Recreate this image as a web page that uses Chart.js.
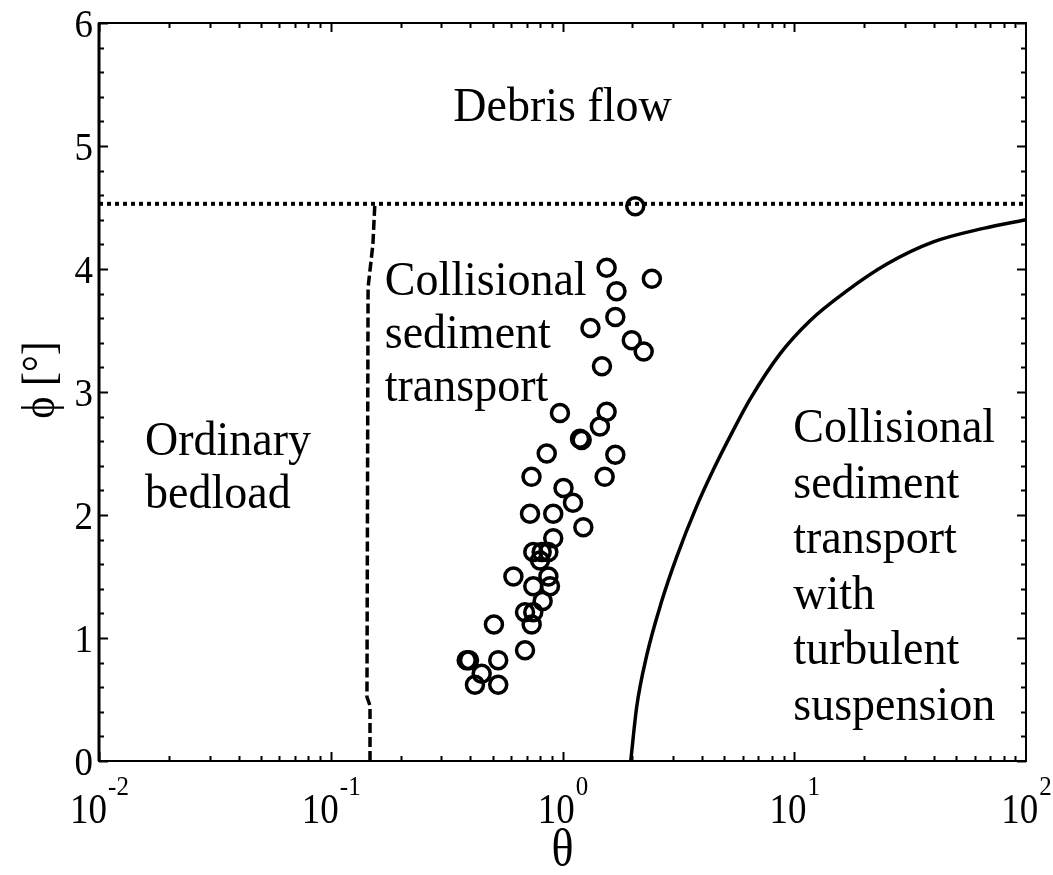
<!DOCTYPE html>
<html>
<head>
<meta charset="utf-8">
<script src="https://cdn.jsdelivr.net/npm/chart.js@4.4.0/dist/chart.umd.min.js"></script>
<style>
html, body { margin: 0; padding: 0; background: #fff; }
</style>
</head>
<body>
<canvas id="regimeChart" width="1053" height="875"></canvas>
<script>
// measured runs: Shields number theta vs bed slope phi (deg)
var runTheta = [2.06, 1.55, 2.43, 1.71, 1.69, 1.32, 1.99, 2.24, 1.48, 0.975, 1.55, 1.45, 1.19, 1.21,
    0.855, 1.69, 0.735, 1.52, 1.01, 1.11, 0.724, 0.912, 1.23, 0.912, 0.748, 0.813, 0.869, 0.80,
    0.614, 0.869, 0.748, 0.883, 0.821, 0.689, 0.748, 0.736, 0.506, 0.689, 0.386, 0.395, 0.528,
    0.448, 0.419, 0.528];
var runPhi = [4.51, 4.01, 3.92, 3.82, 3.61, 3.52, 3.42, 3.33, 3.21, 2.83, 2.84, 2.72, 2.62, 2.61,
    2.50, 2.49, 2.31, 2.31, 2.22, 2.10, 2.01, 2.01, 1.90, 1.81, 1.70, 1.70, 1.70, 1.63,
    1.50, 1.50, 1.42, 1.42, 1.30, 1.21, 1.21, 1.11, 1.11, 0.90, 0.82, 0.82, 0.82,
    0.71, 0.62, 0.62];

// boundary: collisional / turbulent suspension (solid)
var suspTheta = [1.97, 2.09, 2.31, 2.68, 3.11, 3.79, 4.48, 5.46, 6.44, 8.68, 11.7, 16.8, 25.1, 39.8, 65.5, 100];
var suspPhi = [0, 0.44, 0.86, 1.30, 1.66, 2.07, 2.37, 2.69, 2.94, 3.31, 3.58, 3.82, 4.04, 4.22, 4.33, 4.40];

// boundary: ordinary bedload / collisional (dashed)
var bedTheta = [0.1477, 0.1477, 0.1433, 0.1449, 0.152, 0.155];
var bedPhi = [0, 0.45, 0.52, 3.85, 4.2, 4.53];

// boundary: debris flow (dotted)
var debrisTheta = [0.01, 100];
var debrisPhi = [4.53, 4.53];

var xTickValues = [0.01, 0.1, 1, 10, 100];
var xTickExp = ['-2', '-1', '0', '1', '2'];
var yTickValues = [0, 1, 2, 3, 4, 5, 6];

function toPoints(xs, ys) {
    var pts = [];
    for (var i = 0; i < xs.length; i++) pts.push({x: xs[i], y: ys[i]});
    return pts;
}

var regionLabels = [
    {lines: ['Debris flow'], theta: 1.0, phi: 5.2, align: 'center', lh: 53},
    {lines: ['Collisional', 'sediment', 'transport'], theta: 0.171, phi: 3.79, align: 'left', lh: 53},
    {lines: ['Ordinary', 'bedload'], theta: 0.0158, phi: 2.49, align: 'left', lh: 53},
    {lines: ['Collisional', 'sediment', 'transport', 'with', 'turbulent', 'suspension'], theta: 9.9, phi: 2.59, align: 'left', lh: 55.5}
];

var serif = '"Liberation Serif", "Times New Roman", serif';

// text in the original is a bit taller than wide, so stretch it vertically
function tallText(ctx, txt, x, y, sy) {
    ctx.save();
    ctx.translate(x, y);
    ctx.scale(1, sy);
    ctx.fillText(txt, 0, 0);
    ctx.restore();
}

var framePlugin = {
    id: 'frame',
    afterDraw: function(chart) {
        var ctx = chart.ctx, a = chart.chartArea, x = chart.scales.x, y = chart.scales.y;
        ctx.save();
        ctx.strokeStyle = '#000';
        ctx.fillStyle = '#000';

        // inward ticks on all four sides
        ctx.lineWidth = 2;
        ctx.beginPath();
        for (var k = -2; k <= 1; k++) {
            for (var m = 1; m <= 9; m++) {
                var px = Math.round(x.getPixelForValue(m * Math.pow(10, k))) + 0.5;
                var len = m == 1 ? 9 : 5;
                ctx.moveTo(px, a.bottom); ctx.lineTo(px, a.bottom - len);
                ctx.moveTo(px, a.top); ctx.lineTo(px, a.top + len);
            }
        }
        for (var i = 0; i <= 30; i++) {
            var py = Math.round(y.getPixelForValue(i * 0.2)) + 0.5;
            var ylen = i % 5 == 0 ? 9 : 5;
            ctx.moveTo(a.left, py); ctx.lineTo(a.left + ylen, py);
            ctx.moveTo(a.right, py); ctx.lineTo(a.right - ylen, py);
        }
        ctx.stroke();

        // box
        ctx.lineWidth = 2;
        ctx.strokeRect(a.left, a.top, a.right - a.left, a.bottom - a.top);
        ctx.lineWidth = 3;
        ctx.beginPath();
        ctx.moveTo(a.left, a.top); ctx.lineTo(a.left, a.bottom);
        ctx.stroke();

        // y tick labels
        ctx.font = '37px ' + serif;
        ctx.textAlign = 'right';
        ctx.textBaseline = 'alphabetic';
        yTickValues.forEach(function(v) {
            tallText(ctx, String(v), a.left - 6, y.getPixelForValue(v) + 14, 1.08);
        });

        // x tick labels 10^k
        xTickValues.forEach(function(v, j) {
            var cx = x.getPixelForValue(v);
            ctx.font = '37px ' + serif;
            var w1 = ctx.measureText('10').width;
            ctx.font = '25px ' + serif;
            var w2 = ctx.measureText(xTickExp[j]).width;
            var left = cx - (w1 + w2) / 2;
            ctx.textAlign = 'left';
            ctx.font = '37px ' + serif;
            tallText(ctx, '10', left, a.bottom + 62, 1.15);
            ctx.font = '25px ' + serif;
            tallText(ctx, xTickExp[j], left + w1 + 1, a.bottom + 34, 1.1);
        });

        // axis titles
        ctx.font = '46px ' + serif;
        ctx.textAlign = 'center';
        tallText(ctx, '\u03b8', (a.left + a.right) / 2, a.bottom + 104, 1.15);
        ctx.font = '42px ' + serif;
        ctx.save();
        ctx.translate(54, 380);
        ctx.rotate(-Math.PI / 2);
        ctx.scale(1, 1.1);
        ctx.fillText('\u03d5 [\u00b0]', 0, 0);
        ctx.restore();

        // region labels
        ctx.font = '46px ' + serif;
        regionLabels.forEach(function(lab) {
            ctx.textAlign = lab.align;
            var lx = x.getPixelForValue(lab.theta);
            var ly = y.getPixelForValue(lab.phi);
            lab.lines.forEach(function(t, n) {
                tallText(ctx, t, lx, ly + n * lab.lh, 1.05);
            });
        });
        ctx.restore();
    }
};

var ctx = document.getElementById('regimeChart').getContext('2d');
var myChart = new Chart(ctx, {
    type: 'scatter',
    data: {
        datasets: [{
            label: 'debris',
            data: toPoints(debrisTheta, debrisPhi),
            showLine: true,
            borderColor: '#000',
            borderWidth: 4,
            borderDash: [4, 4],
            pointRadius: 0
        }, {
            label: 'bedload',
            data: toPoints(bedTheta, bedPhi),
            showLine: true,
            borderColor: '#000',
            borderWidth: 3.5,
            borderDash: [10, 4],
            pointRadius: 0
        }, {
            label: 'suspension',
            data: toPoints(suspTheta, suspPhi),
            showLine: true,
            borderColor: '#000',
            borderWidth: 3.5,
            cubicInterpolationMode: 'monotone',
            pointRadius: 0
        }, {
            label: 'runs',
            data: toPoints(runTheta, runPhi),
            pointStyle: 'circle',
            pointRadius: 8.5,
            pointBorderWidth: 3.5,
            pointBorderColor: '#000',
            pointBackgroundColor: 'rgba(0,0,0,0)'
        }]
    },
    options: {
        responsive: false,
        devicePixelRatio: 1,
        animation: false,
        layout: { padding: { left: 99, right: 27, top: 23, bottom: 114 } },
        plugins: { legend: { display: false }, tooltip: { enabled: false } },
        scales: {
            x: { type: 'logarithmic', min: 0.01, max: 100, display: false },
            y: { type: 'linear', min: 0, max: 6, display: false }
        }
    },
    plugins: [framePlugin]
});
</script>
</body>
</html>
